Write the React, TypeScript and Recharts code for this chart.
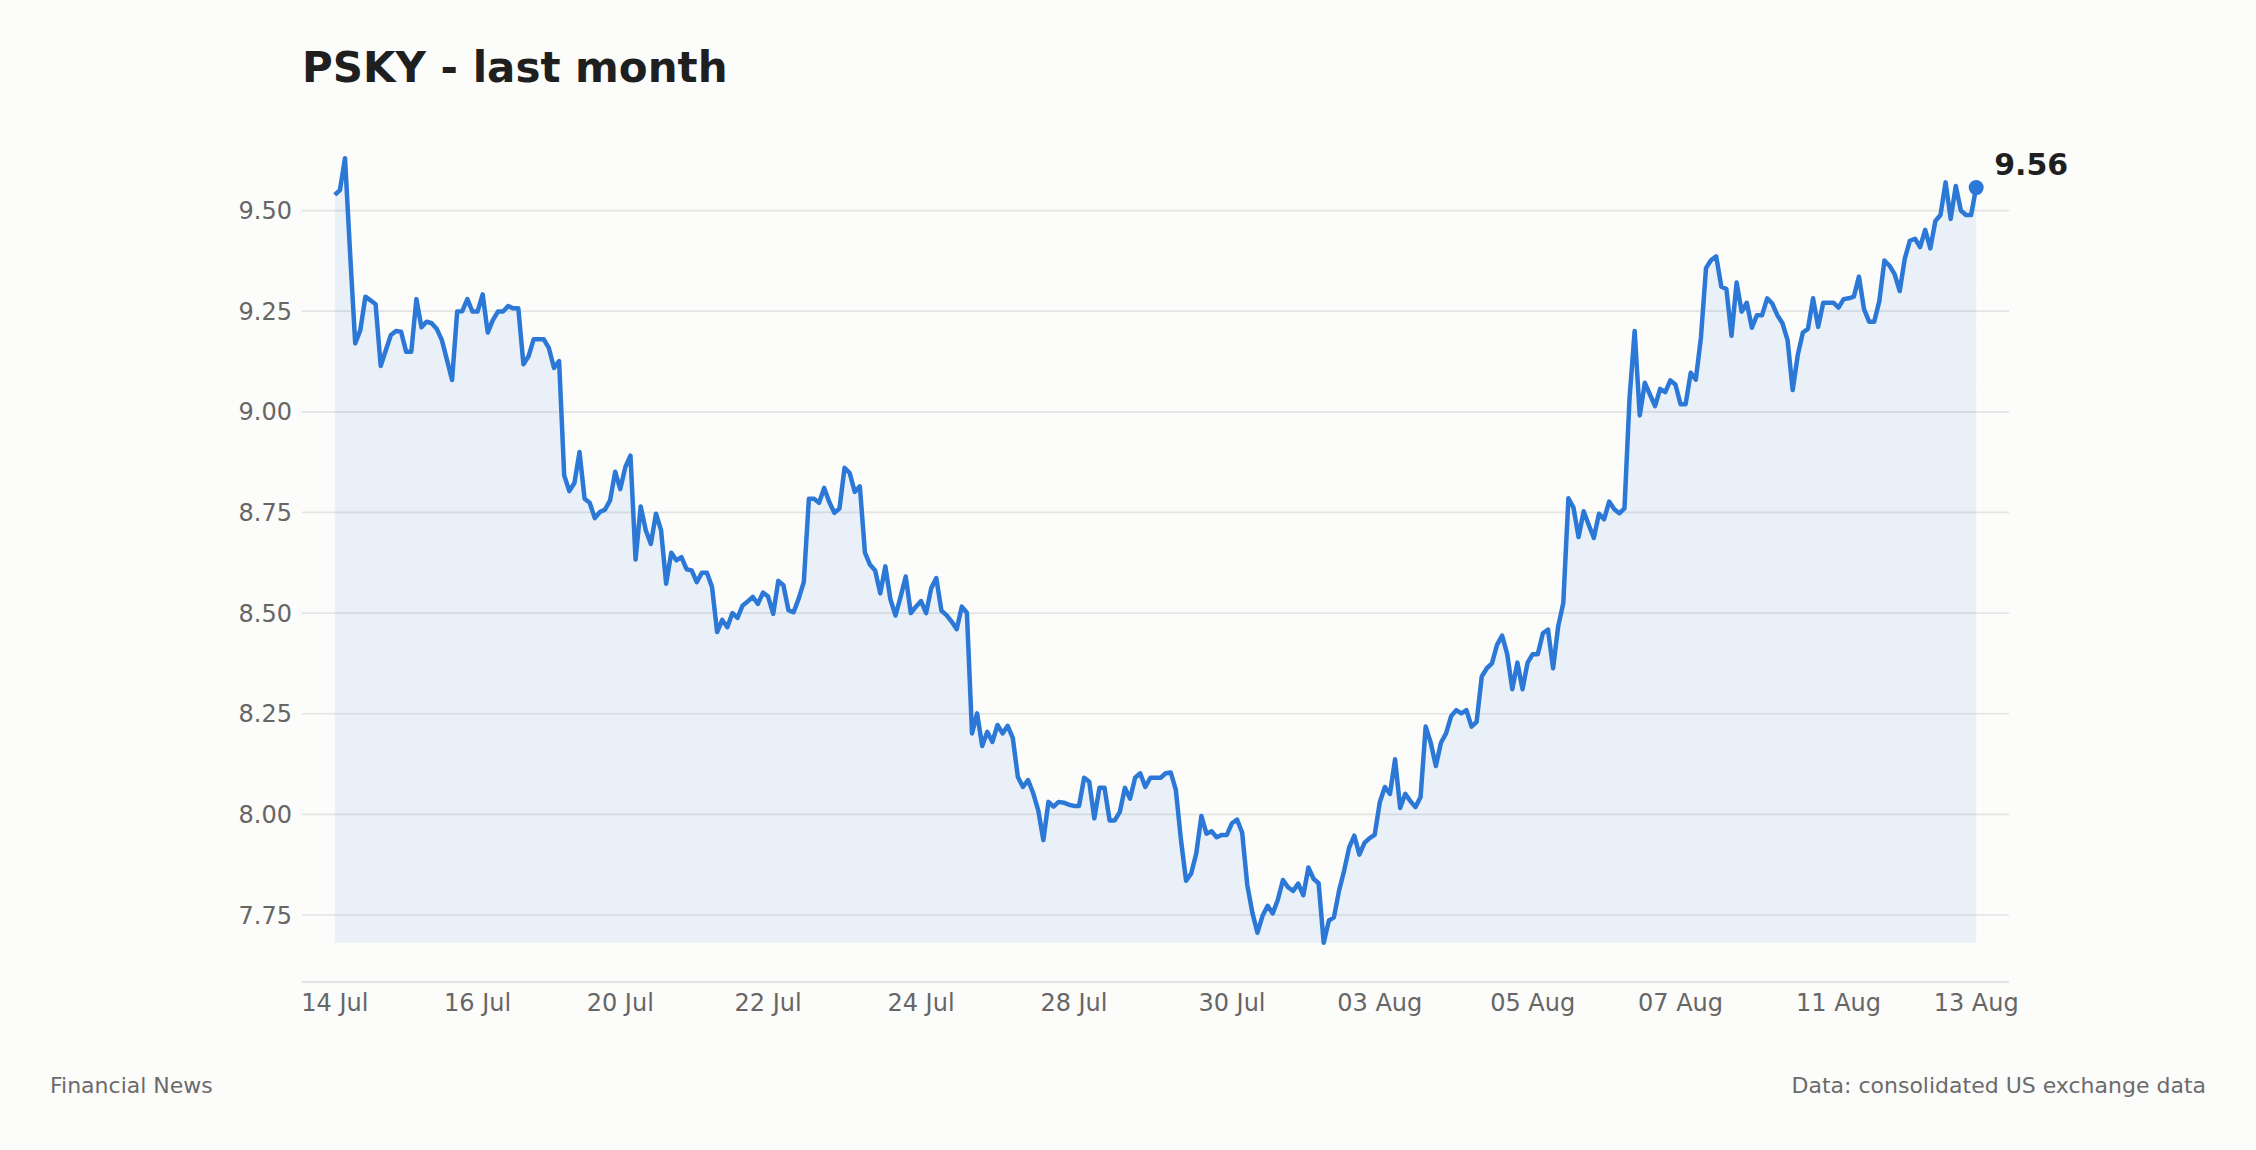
import { ComposedChart, Area, XAxis, YAxis, CartesianGrid, ReferenceDot } from "recharts";

// PSKY intraday closes in four stretches
const weekOne = [
  9.539, 9.551, 9.63, 9.393, 9.17, 9.203, 9.286, 9.277, 9.267, 9.114,
  9.153, 9.191, 9.201, 9.199, 9.149, 9.149, 9.28, 9.21, 9.224, 9.22,
  9.206, 9.178, 9.129, 9.079, 9.249, 9.25, 9.28, 9.249, 9.249, 9.292,
  9.197, 9.228, 9.249, 9.249, 9.263, 9.257, 9.257, 9.118, 9.138, 9.18,
  9.18, 9.18, 9.158, 9.109, 9.126, 8.842, 8.803, 8.823, 8.9, 8.784,
  8.774, 8.736, 8.751, 8.757, 8.78, 8.851, 8.808, 8.863, 8.891, 8.633,
  8.765, 8.706, 8.672, 8.747, 8.706, 8.573, 8.65, 8.631, 8.639, 8.609,
  8.606, 8.577, 8.6, 8.6, 8.565, 8.453, 8.483, 8.465, 8.5, 8.488,
  8.519, 8.529, 8.54, 8.523, 8.551, 8.541, 8.498, 8.58, 8.569, 8.507,
  8.502, 8.536, 8.577, 8.784, 8.784, 8.774, 8.811, 8.776, 8.749, 8.76,
  8.861,
];

const weekTwo = [
  8.848, 8.801, 8.815, 8.65, 8.62, 8.606, 8.549, 8.616, 8.534, 8.494,
  8.541, 8.591, 8.5, 8.516, 8.53, 8.5, 8.562, 8.587, 8.506, 8.495,
  8.479, 8.46, 8.516, 8.501, 8.201, 8.251, 8.17, 8.205, 8.18, 8.222,
  8.201, 8.22, 8.19, 8.093, 8.068, 8.085, 8.053, 8.01, 7.936, 8.031,
  8.019, 8.031, 8.029, 8.024, 8.021, 8.021, 8.091, 8.081, 7.99, 8.066,
  8.066, 7.985, 7.985, 8.006, 8.066, 8.039, 8.091, 8.102, 8.068, 8.091,
  8.091, 8.091, 8.102, 8.104, 8.06, 7.936, 7.835, 7.853, 7.903,
];

const weekThree = [
  7.996, 7.952, 7.958, 7.943, 7.949, 7.949, 7.978, 7.987, 7.955, 7.825,
  7.756, 7.706, 7.748, 7.773, 7.754, 7.788, 7.837, 7.819, 7.81, 7.828,
  7.799, 7.868, 7.84, 7.829, 7.681, 7.736, 7.744, 7.81, 7.86, 7.918,
  7.947, 7.9, 7.929, 7.941, 7.949, 8.03, 8.068, 8.051, 8.137, 8.016,
  8.051, 8.033, 8.018, 8.043, 8.218, 8.178, 8.12, 8.178, 8.201, 8.244,
  8.259, 8.251, 8.259, 8.218, 8.23, 8.342, 8.363, 8.375, 8.421, 8.444,
  8.398, 8.311, 8.377, 8.311, 8.377, 8.398, 8.398, 8.45, 8.459, 8.363,
  8.467, 8.525, 8.785, 8.762, 8.689, 8.753, 8.719, 8.687, 8.747, 8.733,
  8.777, 8.758, 8.748, 8.76, 9.034, 9.201, 8.991, 9.072, 9.043, 9.014,
  9.057, 9.049, 9.078, 9.068, 9.019, 9.019, 9.097, 9.08, 9.184, 9.357,
  9.377, 9.386, 9.311,
];

const weekFour = [
  9.305, 9.189, 9.321, 9.249, 9.271, 9.209, 9.24, 9.24, 9.282, 9.269,
  9.24, 9.22, 9.178, 9.054, 9.141, 9.197, 9.206, 9.282, 9.211, 9.271,
  9.271, 9.271, 9.259, 9.28, 9.282, 9.286, 9.336, 9.255, 9.224, 9.224,
  9.275, 9.376, 9.363, 9.342, 9.3, 9.381, 9.425, 9.43, 9.409, 9.452,
  9.406, 9.474, 9.489, 9.57, 9.479, 9.561, 9.5, 9.489, 9.489, 9.557,
];

const prices = [...weekOne, ...weekTwo, ...weekThree, ...weekFour];

const tickIndex = [0, 28, 56, 85, 115, 145, 176, 205, 235, 264, 295, 322];
const tickLabels = [
  "14 Jul", "16 Jul", "20 Jul", "22 Jul", "24 Jul", "28 Jul",
  "30 Jul", "03 Aug", "05 Aug", "07 Aug", "11 Aug", "13 Aug",
];
const priceTicks = [7.75, 8.0, 8.25, 8.5, 8.75, 9.0, 9.25, 9.5];

const BLUE = "#2b78d6";
const FONT = "'DejaVu Sans', sans-serif";

const data = prices.map((price, i) => ({ i, price }));
const lo = Math.min(...prices);
const hi = Math.max(...prices);
const last = prices.length - 1;
const xPad = last * 0.02;
const yPad = (hi - lo) * 0.05;

const labelFor = (i: number) => tickLabels[tickIndex.indexOf(i)] ?? "";

export default function App() {
  return (
    <div
      style={{
        position: "absolute",
        left: 0,
        top: 0,
        width: 2256,
        height: 1150,
        background: "#fcfcfb",
        fontFamily: FONT,
        overflow: "hidden",
      }}
    >
      <div
        style={{
          position: "absolute",
          left: 302,
          top: 47,
          fontSize: 42,
          lineHeight: 1,
          fontWeight: "bold",
          color: "#1f1f1f",
          whiteSpace: "nowrap",
        }}
      >
        PSKY - last month
      </div>

      <ComposedChart
        width={2256}
        height={1150}
        data={data}
        margin={{ top: 119, right: 247, bottom: 108, left: 222 }}
      >
        <CartesianGrid
          vertical={false}
          horizontalValues={priceTicks}
          stroke="#e4e4e4"
          strokeWidth={1.7}
        />
        <XAxis
          dataKey="i"
          type="number"
          domain={[-xPad, last + xPad]}
          allowDataOverflow
          ticks={tickIndex}
          interval={0}
          tickFormatter={labelFor}
          height={60}
          tickLine={false}
          tickMargin={6}
          axisLine={{ stroke: "#e3e3e3", strokeWidth: 2 }}
          tick={{ fontSize: 24, fill: "#666666", fontFamily: FONT }}
        />
        <YAxis
          type="number"
          domain={[lo - yPad, hi + yPad]}
          allowDataOverflow
          ticks={priceTicks}
          interval={0}
          tickFormatter={(v: number) => v.toFixed(2)}
          width={80}
          tickLine={false}
          axisLine={false}
          tickMargin={4}
          tick={{ fontSize: 24, fill: "#666666", fontFamily: FONT }}
        />
        <Area
          type="linear"
          dataKey="price"
          stroke={BLUE}
          strokeWidth={4.5}
          strokeLinejoin="round"
          fill={BLUE}
          fillOpacity={0.09}
          baseValue={lo}
          dot={false}
          activeDot={false}
          isAnimationActive={false}
        />
        <ReferenceDot
          x={last}
          y={prices[last]}
          r={7.5}
          shape={(p: any) => (
            <g>
              <circle cx={p.cx} cy={p.cy} r={7.5} fill={BLUE} />
              <text
                x={p.cx + 18}
                y={p.cy - 13}
                fontSize={30}
                fontWeight="bold"
                fill="#1f1f1f"
                fontFamily={FONT}
              >
                {prices[last].toFixed(2)}
              </text>
            </g>
          )}
        />
      </ComposedChart>

      <div
        style={{
          position: "absolute",
          left: 50,
          top: 1075,
          fontSize: 22,
          lineHeight: 1,
          color: "#6b6b6b",
          whiteSpace: "nowrap",
        }}
      >
        Financial News
      </div>
      <div
        style={{
          position: "absolute",
          right: 50,
          top: 1075,
          fontSize: 22,
          lineHeight: 1,
          color: "#6b6b6b",
          whiteSpace: "nowrap",
        }}
      >
        Data: consolidated US exchange data
      </div>
    </div>
  );
}
